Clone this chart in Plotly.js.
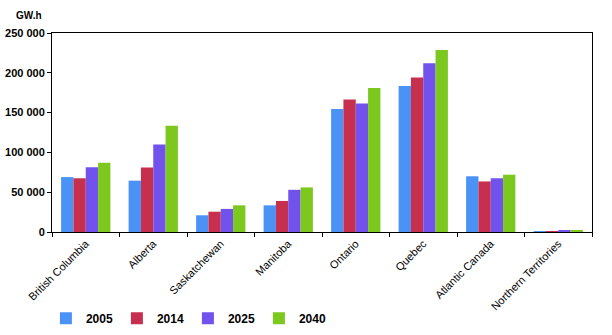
<!DOCTYPE html>
<html><head><meta charset="utf-8">
<script src="https://cdn.plot.ly/plotly-3.0.1.min.js"></script>
<style>body{margin:0;background:#fff}#c{width:612px;height:335px}</style>
</head><body><div id="c"></div>
<script>
var categories = ["British Columbia","Alberta","Saskatchewan","Manitoba","Ontario","Quebec","Atlantic Canada","Northern Territories"];
var years = ["2005","2014","2025","2040"];
var v2005 = [69000, 64500, 21000, 33500, 154500, 183500, 70000, 1000];
var v2014 = [67500, 81000, 25500, 39000, 166500, 194000, 63500, 1200];
var v2025 = [81500, 110000, 29000, 53000, 161500, 212000, 67500, 1600];
var v2040 = [87000, 133500, 33500, 56000, 181000, 228500, 72000, 1300];
var colors = ["#4b92f6", "#c72f4e", "#7152ec", "#7cc81e"];
var series = [v2005, v2014, v2025, v2040];
var fam = "Liberation Sans, Arial, sans-serif";
var data = series.map(function(s, i){
  return {type: "bar", name: years[i], x: categories, y: s, marker: {color: colors[i]}};
});
var layout = {
  width: 612, height: 335,
  margin: {l: 52, r: 20, t: 33, b: 103, autoexpand: false},
  paper_bgcolor: "#fff", plot_bgcolor: "#fff",
  separators: ". ",
  barmode: "group", bargap: 0.27, bargroupgap: 0,
  font: {family: fam, size: 11, color: "#000"},
  showlegend: true,
  legend: {orientation: "h", xref: "container", yref: "container", x: 0.075, xanchor: "left", y: 0.05, yanchor: "middle",
           font: {family: fam, size: 12, weight: "bold", color: "#000"},
           entrywidth: 26, entrywidthmode: "pixels", itemwidth: 30, traceorder: "normal"},
  xaxis: {type: "category", showline: true, linecolor: "#000", linewidth: 1, mirror: true,
          ticks: "outside", tickson: "boundaries", ticklen: 4, tickcolor: "#000", automargin: false,
          tickangle: -45, tickfont: {family: fam, size: 11, color: "#000"},
          showgrid: false},
  yaxis: {range: [0, 250000], dtick: 50000, tickformat: ",d", showline: true, linecolor: "#000",
          linewidth: 1, mirror: true, ticks: "outside", ticklen: 4, tickcolor: "#000", automargin: false,
          showgrid: false, zeroline: false, tickfont: {family: fam, size: 11, weight: "bold", color: "#000"}},
  annotations: [{text: "GW.h", xref: "paper", yref: "paper", x: -0.015, y: 1.09, xanchor: "right", yanchor: "middle",
                 showarrow: false, font: {family: fam, size: 10, weight: "bold", color: "#000"}}]
};
Plotly.newPlot("c", data, layout, {displayModeBar: false});
</script></body></html>
